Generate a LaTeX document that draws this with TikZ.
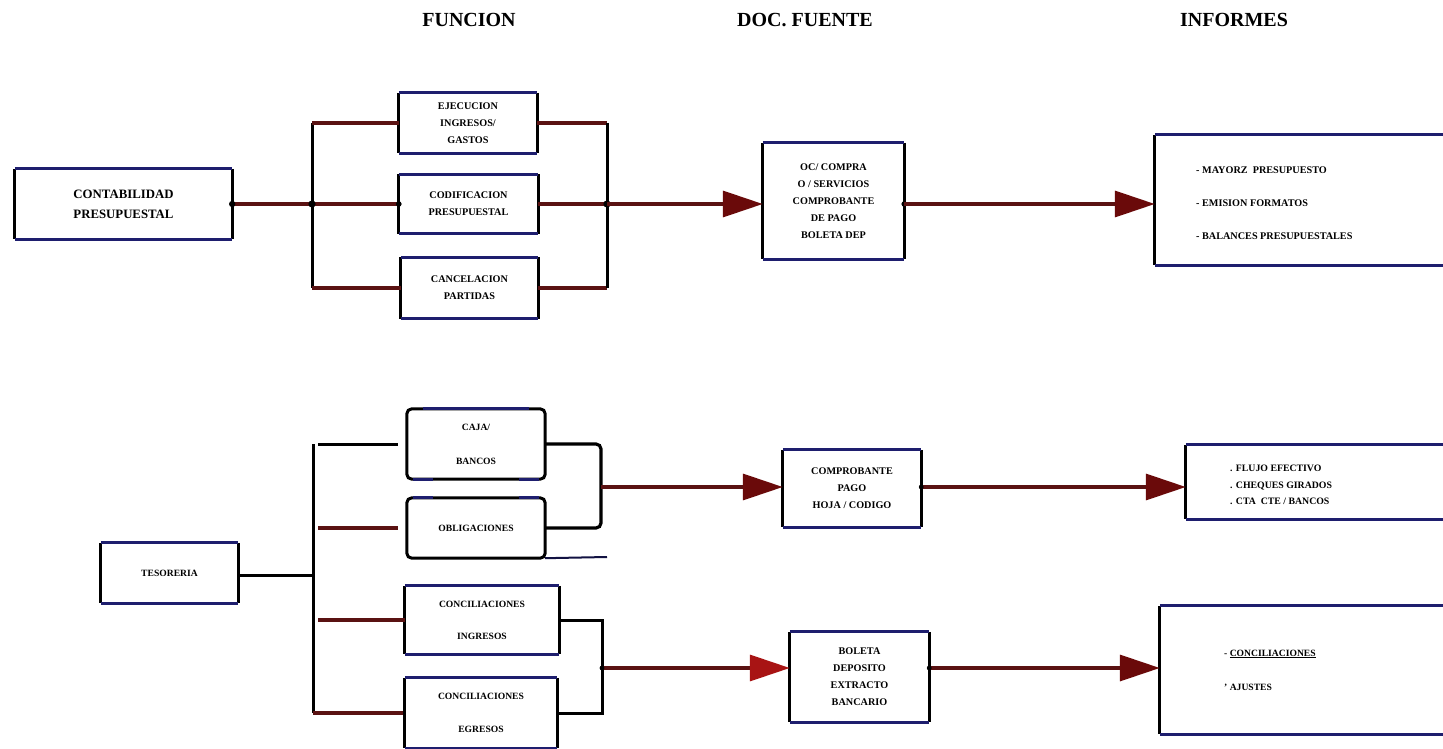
\documentclass[tikz,border=0pt]{standalone}
\usepackage{fontspec}
\setmainfont{Liberation Serif}
\usetikzlibrary{arrows.meta}

\definecolor{edgeblue}{HTML}{1E1E6E}
\definecolor{wire}{HTML}{5A1212}
\definecolor{tipred}{HTML}{6A0A0A}
\definecolor{brightred}{HTML}{A81414}

\tikzset{
  box/.style={minimum width=#1, inner sep=0pt, align=center, font=\bfseries\fontsize{10.2}{17}\selectfont},
  box/.default=138,
  title/.style={font=\bfseries\fontsize{20}{24}\selectfont},
  listtext/.style={anchor=west, align=left, inner sep=0pt},
  sideedge/.style={draw=black, line width=2.8pt},
  topedge/.style={draw=edgeblue, line width=3pt},
  hwire/.style={draw=wire, line width=3.2pt},
  vwire/.style={draw=black, line width=3pt},
  flow/.style={draw=wire, line width=3.4pt,
    -{Triangle[length=40pt,width=26pt,fill=tipred,color=tipred]}},
  flowred/.style={draw=wire, line width=3.4pt,
    -{Triangle[length=40pt,width=26pt,fill=brightred,color=brightred]}},
  dot/.style={fill=black}
}

% frame of a box: black sides, blue top and bottom
\newcommand{\frameedges}[1]{%
  \draw[sideedge] (#1.north west) -- (#1.south west) (#1.north east) -- (#1.south east);
  \draw[topedge] (#1.north west) -- (#1.north east) (#1.south west) -- (#1.south east);
}

\begin{document}
\begin{tikzpicture}[x=1pt,y=-1pt]
\useasboundingbox (0,0) rectangle (1443,749);

% column headings
\node[title] (hfun) at (469,20) {FUNCION};
\node[title] (hdoc) at (805,20) {DOC. FUENTE};
\node[title] (hinf) at (1234,20) {INFORMES};

% ---------------- budget accounting ----------------
\node[box=217, minimum height=70, font=\bfseries\fontsize{12.8}{20}\selectfont] (cp) at (123.5,204) {CONTABILIDAD\\PRESUPUESTAL};
\node[box, minimum height=60] (ejec) at (468,123) {EJECUCION\\INGRESOS/\\GASTOS};
\node[box=139, minimum height=59] (codi) at (468.5,204) {CODIFICACION\\PRESUPUESTAL};
\node[box=137, minimum height=61] (canc) at (469.5,288) {CANCELACION\\PARTIDAS};
\node[box=141, minimum height=116] (oc) at (833.5,201) {OC/ COMPRA\\O / SERVICIOS\\COMPROBANTE\\DE PAGO\\BOLETA DEP};
\node[minimum width=300, minimum height=130, inner sep=0pt] (inf1) at (1305,200) {};
\node[listtext, font=\bfseries\fontsize{10.2}{33}\selectfont] (inf1t) at (1196,203) {- MAYORZ\ \ PRESUPUESTO\\- EMISION FORMATOS\\- BALANCES PRESUPUESTALES};

\foreach \n in {cp,ejec,codi,canc,oc,inf1} {\frameedges{\n}}

\coordinate (j1) at (312,204);
\coordinate (j2) at (607,204);

\draw[hwire] (cp.east) -- (j1);
\draw[vwire] (j1 |- ejec.west) -- (j1 |- canc.west);
\draw[hwire] (j1 |- ejec.west) -- (ejec.west);
\draw[hwire] (j1) -- (codi.west);
\draw[hwire] (j1 |- canc.west) -- (canc.west);
\draw[hwire] (ejec.east) -- (j2 |- ejec.east);
\draw[hwire] (codi.east) -- (j2);
\draw[hwire] (canc.east) -- (j2 |- canc.east);
\draw[vwire] (j2 |- ejec.east) -- (j2 |- canc.east);
\fill[dot] (cp.east) circle (3.2) (j1) circle (3.6) (codi.west) circle (2.8) (j2) circle (3.6) (oc.east |- j2) circle (2.8);

\draw[flow] (j2) -- (oc.west |- j2);
\draw[flow] (oc.east |- j2) -- (inf1.west |- j2);

% ---------------- treasury ----------------
\node[box=137, minimum height=60, font=\bfseries\fontsize{9.6}{12}\selectfont] (tes) at (169.5,573) {TESORERIA};
\node[box, minimum height=70, font=\bfseries\fontsize{9.6}{34}\selectfont] (caja) at (476,444) {CAJA/\\BANCOS};
\node[box, minimum height=60, font=\bfseries\fontsize{9.6}{12}\selectfont] (obli) at (476,528) {OBLIGACIONES};
\node[box=154, minimum height=68, font=\bfseries\fontsize{9.6}{32}\selectfont] (cing) at (482,620) {CONCILIACIONES\\INGRESOS};
\node[box=152, minimum height=70, font=\bfseries\fontsize{9.6}{33}\selectfont] (cegr) at (481,713) {CONCILIACIONES\\EGRESOS};
\node[box, minimum height=77] (comp) at (852,488.5) {COMPROBANTE\\PAGO\\HOJA / CODIGO};
\node[box=139, minimum height=90] (bol) at (859.5,677) {BOLETA\\DEPOSITO\\EXTRACTO\\BANCARIO};
\node[minimum width=268, minimum height=74, inner sep=0pt] (inf2) at (1320,482) {};
\node[listtext, font=\bfseries\fontsize{9.8}{16.5}\selectfont] (inf2t) at (1230,485) {. FLUJO EFECTIVO\\. CHEQUES GIRADOS\\. CTA\ \ CTE / BANCOS};
\node[minimum width=294, minimum height=128, inner sep=0pt] (inf3) at (1307,670) {};
\node[listtext, font=\bfseries\fontsize{9.6}{34}\selectfont] (inf3t) at (1224,670) {- \underline{CONCILIACIONES}\\' AJUSTES};

\foreach \n in {tes,cing,cegr,comp,bol,inf2,inf3} {\frameedges{\n}}

% rounded frames of the cash group
\draw[sideedge, line width=3pt, rounded corners=5] (caja.north west) rectangle (caja.south east);
\draw[sideedge, line width=3pt, rounded corners=5] (obli.north west) rectangle (obli.south east);
\draw[topedge] ([xshift=16]caja.north west) -- ([xshift=-16]caja.north east);
\draw[draw=edgeblue, line width=3pt] ([xshift=6]caja.south west) -- ([xshift=26]caja.south west)
  ([xshift=-6]caja.south east) -- ([xshift=-26]caja.south east)
  ([xshift=6]obli.north west) -- ([xshift=26]obli.north west)
  ([xshift=-6]obli.north east) -- ([xshift=-26]obli.north east);

\coordinate (j3) at (313,575);
\coordinate (j4) at (601,487);
\coordinate (j5) at (602,668);
\coordinate (rule) at (607,557);

\draw[vwire] (tes.east |- j3) -- (j3);
\draw[vwire] (j3 |- caja.west) -- (j3 |- cegr.west);
\draw[vwire] ([xshift=5]j3 |- caja.west) -- ([xshift=-9]caja.west);
\draw[hwire] ([xshift=5]j3 |- obli.west) -- ([xshift=-9]obli.west);
\draw[hwire] ([xshift=5]j3 |- cing.west) -- (cing.west);
\draw[hwire] (j3 |- cegr.west) -- ([xshift=-2]cegr.west);

% bracket joining cash and obligations
\draw[vwire, line width=3.2pt, rounded corners=5] (caja.east) -- (j4 |- caja.east) -- (j4 |- obli.east) -- (obli.east);
\draw[draw=edgeblue!60!black, line width=2pt] (obli.south east) -- (rule);

\draw[flow] (j4) -- (comp.west |- j4);
\draw[flow] (comp.east |- j4) -- (inf2.west |- j4);

% conciliation group
\draw[vwire] (cing.east) -- (j5 |- cing.east) -- (j5 |- cegr.east) -- (cegr.east);
\draw[flowred] (j5) -- (bol.west |- j5);
\draw[flow] (bol.east |- j5) -- (inf3.west |- j5);
\fill[dot] (j5) circle (2.4) (bol.east |- j5) circle (2.4) (comp.east |- j4) circle (2.4);

\end{tikzpicture}
\end{document}
